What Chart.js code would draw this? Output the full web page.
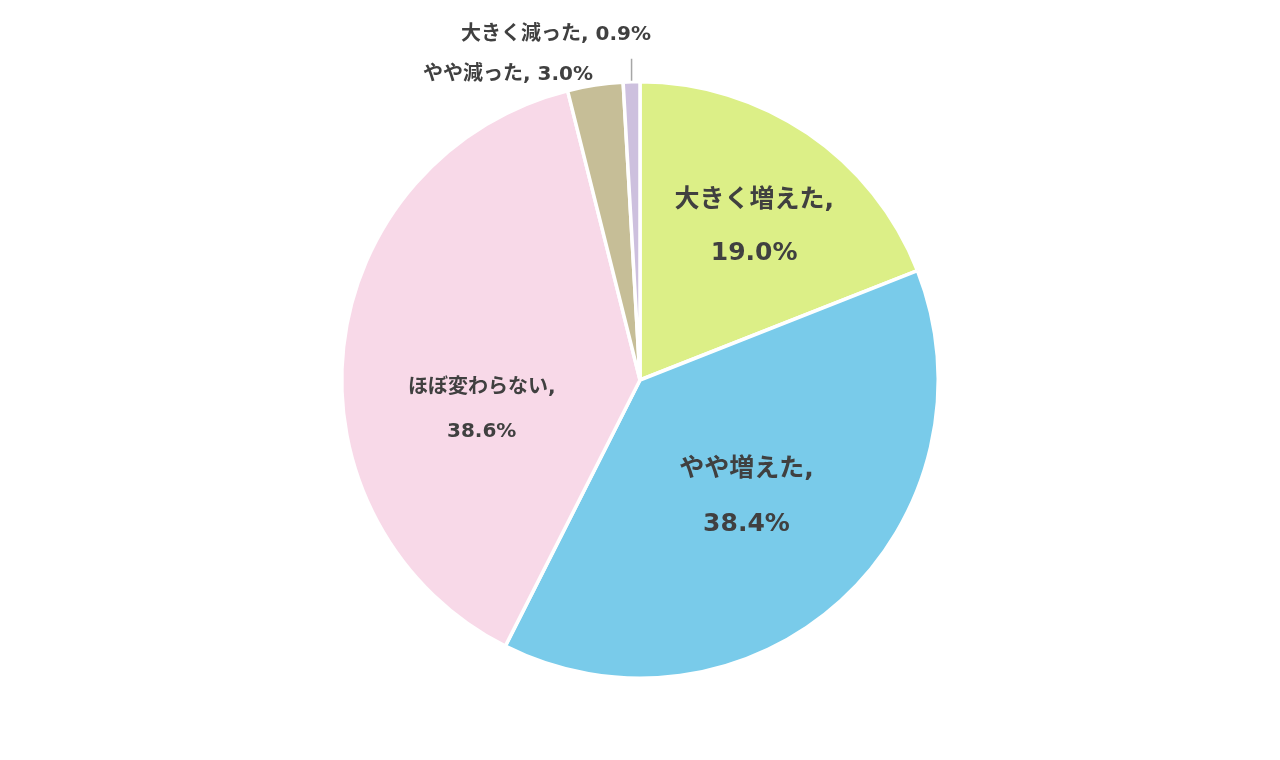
<!DOCTYPE html>
<html>
<head>
<meta charset="utf-8">
<script src="https://cdn.jsdelivr.net/npm/chart.js@4"></script>
<style>
  html, body { margin: 0; padding: 0; background: #fff; }
  #wrap { width: 1280px; height: 760px; }
</style>
</head>
<body>
<div id="wrap"><canvas id="pie"></canvas></div>
<script>
// data
var labels = ['大きく増えた', 'やや増えた', 'ほぼ変わらない', 'やや減った', '大きく減った'];
var values = [19.0, 38.4, 38.6, 3.0, 0.9];
var colors = ['#dcef87', '#79cbea', '#f8d9e8', '#c6be97', '#cdc0de'];

// label placement (style only): inside = fraction of radius, outside = offset from centre
var labelStyle = [
  { inside: true, r: 0.64, da: 2.5, size: 25, gap: 53 },
  { inside: true, r: 0.53, da: 0, size: 25, gap: 55 },
  { inside: true, r: 0.54, da: -17, size: 20, gap: 44 },
  { inside: false, dx: -132, dy: -305, size: 20 },
  { inside: false, dx: -84, dy: -345, size: 20, leader: true }
];

var fontFamily = '"DejaVu Sans", "Noto Sans CJK JP", sans-serif';

var labelPlugin = {
  id: 'sliceLabels',
  afterDatasetsDraw: function(chart) {
    var ctx = chart.ctx;
    var meta = chart.getDatasetMeta(0);
    ctx.save();
    ctx.fillStyle = '#404040';
    ctx.textAlign = 'center';
    ctx.textBaseline = 'middle';
    meta.data.forEach(function(arc, i) {
      var st = labelStyle[i];
      var cx = arc.x, cy = arc.y;
      var pct = values[i].toFixed(1) + '%';
      ctx.font = 'bold ' + st.size + 'px ' + fontFamily;
      if (st.inside) {
        var mid = (arc.startAngle + arc.endAngle) / 2 + st.da * Math.PI / 180;
        var r = arc.outerRadius * st.r;
        var x = cx + Math.cos(mid) * r;
        var y = cy + Math.sin(mid) * r;
        ctx.fillText(labels[i] + ',', x, y - st.gap / 2);
        ctx.fillText(pct, x, y + st.gap / 2);
      } else {
        ctx.fillText(labels[i] + ', ' + pct, cx + st.dx, cy + st.dy);
        if (st.leader) {
          var mid2 = (arc.startAngle + arc.endAngle) / 2;
          var x0 = cx + Math.cos(mid2) * arc.outerRadius;
          ctx.strokeStyle = '#a6a6a6';
          ctx.lineWidth = 1.5;
          ctx.beginPath();
          ctx.moveTo(x0, cy - arc.outerRadius - 1);
          ctx.lineTo(x0, cy - arc.outerRadius - 23);
          ctx.stroke();
        }
      }
    });
    ctx.restore();
  }
};

new Chart(document.getElementById('pie'), {
  type: 'pie',
  data: {
    labels: labels,
    datasets: [{
      data: values,
      backgroundColor: colors,
      borderColor: '#ffffff',
      borderWidth: 3.5
    }]
  },
  options: {
    responsive: true,
    maintainAspectRatio: false,
    animation: false,
    layout: { padding: { top: 80, bottom: 80 } },
    plugins: {
      legend: { display: false },
      tooltip: { enabled: false }
    }
  },
  plugins: [labelPlugin]
});
</script>
</body>
</html>
